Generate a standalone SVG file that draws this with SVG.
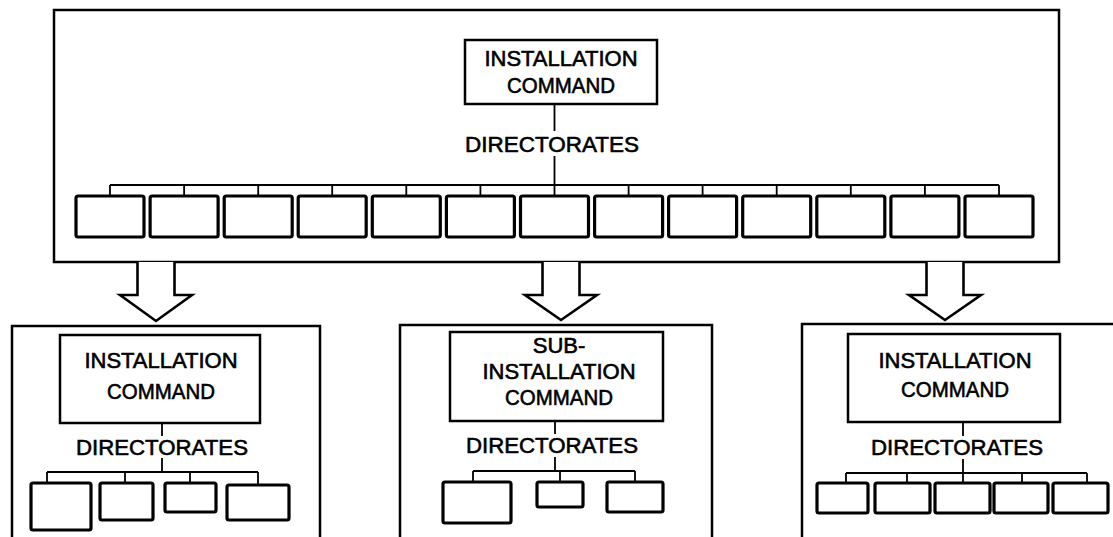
<svg xmlns="http://www.w3.org/2000/svg" width="1113" height="537" viewBox="0 0 1113 537">
<style>
.frame{fill:none;stroke:#000;stroke-width:2.5}
.cmd{fill:#fff;stroke:#000;stroke-width:2.5}
.dir{fill:#fff;stroke:#000;stroke-width:3.2}
.conn{fill:none;stroke:#000;stroke-width:1.8}
.arrow{fill:#fff;stroke:#000;stroke-width:2.6;stroke-linejoin:miter}
.t{font-family:"Liberation Sans",Arial,sans-serif;font-size:22px;text-anchor:middle;fill:#000;stroke:#000;stroke-width:0.6}
</style>
<rect width="1113" height="537" fill="#fff"/>

<g id="top-panel">
  <rect class="frame" x="54" y="10" width="1005" height="252"/>
</g>
<g id="top-command">
  <rect class="cmd" x="465" y="40" width="192" height="64"/>
  <text class="t" x="561" y="66">INSTALLATION</text>
  <text class="t" x="561" y="93" textLength="108" lengthAdjust="spacingAndGlyphs">COMMAND</text>
</g>
<g id="top-directorates-label">
  <text class="t" x="552" y="152" textLength="174" lengthAdjust="spacingAndGlyphs">DIRECTORATES</text>
</g>
<g id="top-directorates">
  <rect class="dir" x="76" y="196" width="68" height="41" rx="2"/>
  <rect class="dir" x="150.1" y="196" width="68" height="41" rx="2"/>
  <rect class="dir" x="224.2" y="196" width="68" height="41" rx="2"/>
  <rect class="dir" x="298.2" y="196" width="68" height="41" rx="2"/>
  <rect class="dir" x="372.3" y="196" width="68" height="41" rx="2"/>
  <rect class="dir" x="446.4" y="196" width="68" height="41" rx="2"/>
  <rect class="dir" x="520.5" y="196" width="68" height="41" rx="2"/>
  <rect class="dir" x="594.6" y="196" width="68" height="41" rx="2"/>
  <rect class="dir" x="668.6" y="196" width="68" height="41" rx="2"/>
  <rect class="dir" x="742.7" y="196" width="68" height="41" rx="2"/>
  <rect class="dir" x="816.8" y="196" width="68" height="41" rx="2"/>
  <rect class="dir" x="890.9" y="196" width="68" height="41" rx="2"/>
  <rect class="dir" x="965" y="196" width="68" height="41" rx="2"/>
</g>

<g id="left-panel">
  <rect class="frame" x="12" y="326" width="308" height="240"/>
</g>
<g id="left-command">
  <rect class="cmd" x="60" y="335" width="200" height="88"/>
  <text class="t" x="161" y="368">INSTALLATION</text>
  <text class="t" x="161" y="399" textLength="108" lengthAdjust="spacingAndGlyphs">COMMAND</text>
</g>
<g id="left-directorates-label">
  <text class="t" x="162" y="455" textLength="172" lengthAdjust="spacingAndGlyphs">DIRECTORATES</text>
</g>
<g id="left-directorates">
  <rect class="dir" x="31" y="483" width="60" height="47" rx="2"/>
  <rect class="dir" x="100" y="483" width="53" height="37" rx="2"/>
  <rect class="dir" x="165" y="483" width="51" height="29" rx="2"/>
  <rect class="dir" x="227" y="485" width="62" height="35" rx="2"/>
</g>

<g id="middle-panel">
  <rect class="frame" x="400" y="325" width="312" height="240"/>
</g>
<g id="middle-command">
  <rect class="cmd" x="450" y="332" width="213" height="89"/>
  <text class="t" x="559" y="353">SUB-</text>
  <text class="t" x="559" y="379">INSTALLATION</text>
  <text class="t" x="559" y="405" textLength="108" lengthAdjust="spacingAndGlyphs">COMMAND</text>
</g>
<g id="middle-directorates-label">
  <text class="t" x="552" y="453" textLength="172" lengthAdjust="spacingAndGlyphs">DIRECTORATES</text>
</g>
<g id="middle-directorates">
  <rect class="dir" x="443" y="482" width="68" height="41" rx="2"/>
  <rect class="dir" x="537" y="482" width="46" height="25" rx="2"/>
  <rect class="dir" x="607" y="482" width="56" height="30" rx="2"/>
</g>

<g id="right-panel">
  <rect class="frame" x="802" y="324" width="330" height="240"/>
</g>
<g id="right-command">
  <rect class="cmd" x="848" y="334" width="212" height="88"/>
  <text class="t" x="955" y="368">INSTALLATION</text>
  <text class="t" x="955" y="397" textLength="108" lengthAdjust="spacingAndGlyphs">COMMAND</text>
</g>
<g id="right-directorates-label">
  <text class="t" x="957" y="455" textLength="172" lengthAdjust="spacingAndGlyphs">DIRECTORATES</text>
</g>
<g id="right-directorates">
  <rect class="dir" x="817" y="483" width="51" height="30" rx="2"/>
  <rect class="dir" x="875" y="483" width="55" height="30" rx="2"/>
  <rect class="dir" x="935" y="483" width="55" height="30" rx="2"/>
  <rect class="dir" x="994" y="483" width="54" height="30" rx="2"/>
  <rect class="dir" x="1053" y="483" width="55" height="30" rx="2"/>
</g>

<g id="connectors">
  <path class="conn" d="M554.5,104 V131 M554.5,156 V185 M110,185 H999 M110,185 V196 M184.1,185 V196 M258.2,185 V196 M332.2,185 V196 M406.3,185 V196 M480.4,185 V196 M554.5,185 V196 M628.6,185 V196 M702.6,185 V196 M776.7,185 V196 M850.8,185 V196 M924.9,185 V196 M999,185 V196"/>
  <path class="conn" d="M162,423 V436 M162,458 V472 M47,472 H258 M47,472 V483 M125,472 V483 M190,472 V483 M258,472 V485"/>
  <path class="conn" d="M555,421 V434 M555,457 V471 M473,471 H635 M473,471 V482 M560,471 V482 M635,471 V482"/>
  <path class="conn" d="M963,422 V436 M963,459 V473 M846,473 H1087 M846,473 V483 M907,473 V483 M963,473 V483 M1022,473 V483 M1087,473 V483"/>
  <path class="arrow" d="M137.5,262 V295 H120 L156,321 L192,295 H174.5 V262"/>
  <path class="arrow" d="M542.5,262 V295 H525 L561,320 L597,295 H579.5 V262"/>
  <path class="arrow" d="M926.5,262 V295 H909 L945,320 L981,295 H963.5 V262"/>
</g>
</svg>
